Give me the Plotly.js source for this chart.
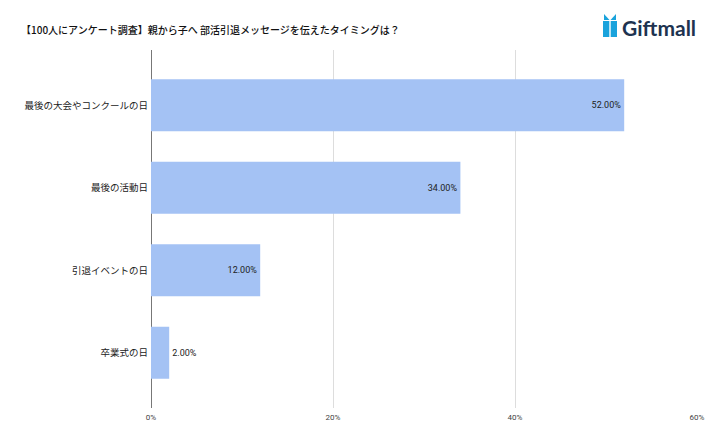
<!DOCTYPE html>
<html>
<head>
<meta charset="utf-8">
<script src="https://cdn.plot.ly/plotly-3.0.1.min.js"></script>
<style>html,body{margin:0;padding:0;background:#fff;}#chart{width:720px;height:444px;}</style>
</head>
<body>
<div id="chart"></div>
<script>
const categories = ["最後の大会やコンクールの日", "最後の活動日", "引退イベントの日", "卒業式の日"];
const percentValues = [52, 34, 12, 2];
const xTickValues = [0, 20, 40, 60];
const xTickLabels = ["0%", "20%", "40%", "60%"];
const chartTitle = "【100人にアンケート調査】親から子へ 部活引退メッセージを伝えたタイミングは？";
const logoText = "Giftmall";

const L = 151, R = 697, T = 50, B = 408;
const px = x => (x - L) / (R - L);
const py = y => (B - y) / (B - T);

const font = "Roboto, 'Noto Sans CJK JP', sans-serif";
const jpFont = "'Noto Sans CJK JP', Roboto, sans-serif";
const logoBlue = "#1AA3DC";

const trace = {
  type: "bar",
  orientation: "h",
  y: categories,
  x: percentValues,
  width: 0.63,
  marker: {color: "#A4C2F4"},
  texttemplate: "%{x:.2f}%",
  textposition: percentValues.map(v => v >= 8 ? "inside" : "outside"),
  textangle: 0,
  insidetextanchor: "end",
  constraintext: "none",
  insidetextfont: {family: font, size: 9, color: "#222"},
  outsidetextfont: {family: font, size: 9, color: "#222"},
  hoverinfo: "none",
  cliponaxis: false
};

const shapes = [
  {type: "rect", xref: "paper", yref: "paper", x0: px(603), x1: px(609.3), y0: py(37), y1: py(21), fillcolor: logoBlue, line: {width: 0}},
  {type: "rect", xref: "paper", yref: "paper", x0: px(610.7), x1: px(617), y0: py(37), y1: py(21), fillcolor: logoBlue, line: {width: 0}},
  {type: "path", xref: "paper", yref: "paper",
   path: `M ${px(609.5)},${py(20)} L ${px(604)},${py(14)} L ${px(604)},${py(20)} Z`, fillcolor: logoBlue, line: {width: 0}},
  {type: "path", xref: "paper", yref: "paper",
   path: `M ${px(610.5)},${py(20)} L ${px(616)},${py(14)} L ${px(616)},${py(20)} Z`, fillcolor: logoBlue, line: {width: 0}}
];

const layout = {
  width: 720, height: 444,
  margin: {l: L, r: 720 - R, t: T, b: 444 - B, pad: 0},
  paper_bgcolor: "#fff", plot_bgcolor: "#fff",
  showlegend: false,
  title: {text: chartTitle, font: {family: jpFont, size: 10, color: "#111", weight: 500},
          xref: "container", yref: "container", x: 21 / 720, xanchor: "left", y: 1 - 30 / 444, yanchor: "middle"},
  xaxis: {
    range: [0, 60], tickvals: xTickValues, ticktext: xTickLabels,
    showgrid: true, gridcolor: "#DDDDDD", gridwidth: 1,
    zeroline: true, zerolinecolor: "#777", zerolinewidth: 1,
    showline: false, ticks: "", tickfont: {family: font, size: 8, color: "#444"},
    ticklabelstandoff: 3,
    fixedrange: true
  },
  yaxis: {
    type: "category", range: [3.67, -0.67],
    showgrid: false, zeroline: false, showline: false, ticks: "",
    tickfont: {family: jpFont, size: 9.5, color: "#222"},
    ticklabelstandoff: 2,
    fixedrange: true
  },
  shapes: shapes,
  annotations: [
    {text: logoText, xref: "paper", yref: "paper", x: px(620), y: py(27.5), xanchor: "left", yanchor: "middle",
     showarrow: false, font: {family: "Lato, 'Liberation Sans', sans-serif", size: 21, color: "#1E3350", weight: "bold"}}
  ]
};

Plotly.newPlot("chart", [trace], layout, {displayModeBar: false, staticPlot: true});
</script>
</body>
</html>
